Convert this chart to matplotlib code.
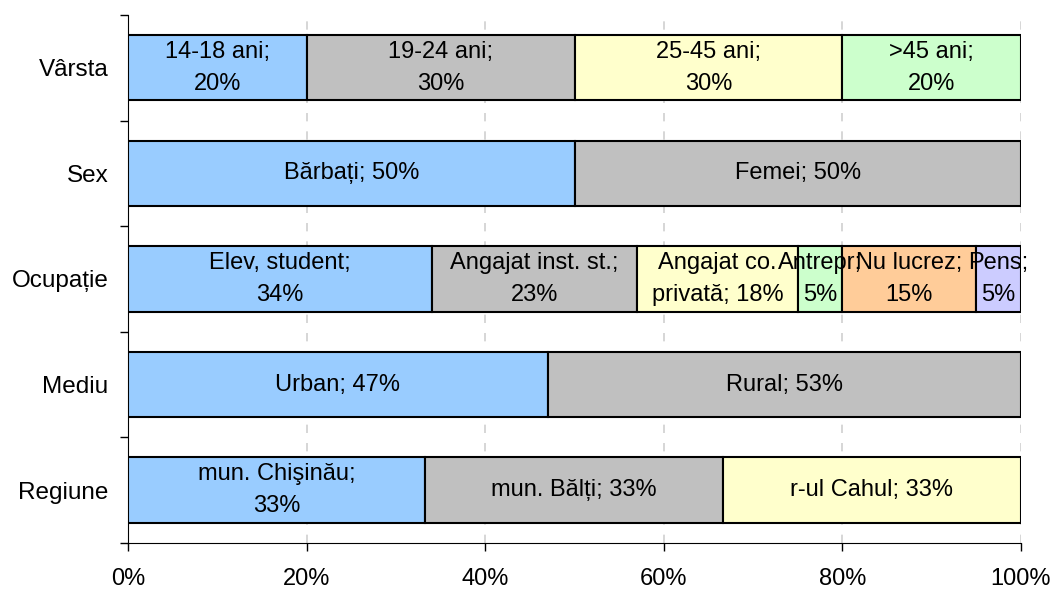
import matplotlib.pyplot as plt
from matplotlib.ticker import FuncFormatter

plt.rcParams['font.family'] = ['Liberation Sans', 'DejaVu Sans']

rows = ['Vârsta', 'Sex', 'Ocupație', 'Mediu', 'Regiune']

varsta_vals = [20, 30, 30, 20]
varsta_labels = ['14-18 ani;\n20%', '19-24 ani;\n30%', '25-45 ani;\n30%', '>45 ani;\n20%']

sex_vals = [50, 50]
sex_labels = ['Bărbați; 50%', 'Femei; 50%']

ocup_vals = [34, 23, 18, 5, 15, 5]
ocup_labels = ['Elev, student;\n34%', 'Angajat inst. st.;\n23%', 'Angajat co.\nprivată; 18%',
               'Antrepr;\n5%', 'Nu lucrez;\n15%', 'Pens;\n5%']

mediu_vals = [47, 53]
mediu_labels = ['Urban; 47%', 'Rural; 53%']

regiune_vals = [33.3, 33.3, 33.4]
regiune_labels = ['mun. Chişinău;\n33%', 'mun. Bălți; 33%', 'r-ul Cahul; 33%']

colors = ['#99CCFF', '#C0C0C0', '#FFFFCC', '#CCFFCC', '#FFCC99', '#CCCCFF']

all_vals = [varsta_vals, sex_vals, ocup_vals, mediu_vals, regiune_vals]
all_labels = [varsta_labels, sex_labels, ocup_labels, mediu_labels, regiune_labels]

fig = plt.figure(figsize=(10.53, 5.9), dpi=100)
ax = fig.add_axes([0.1216, 0.0797, 0.848, 0.895])

for i, (vals, labels) in enumerate(zip(all_vals, all_labels)):
    left = 0
    for j, (v, lab) in enumerate(zip(vals, labels)):
        ax.barh(i, v, left=left, height=0.62, color=colors[j], edgecolor='black',
                linewidth=1.5, zorder=3)
        ax.text(left + v / 2, i, lab, ha='center', va='center', fontsize=17,
                linespacing=1.6, zorder=4)
        left += v

ax.set_xlim(0, 100)
ax.set_ylim(4.5, -0.5)
ax.set_xticks([0, 20, 40, 60, 80, 100])
ax.xaxis.set_major_formatter(FuncFormatter(lambda x, p: '%d%%' % x))
ax.set_yticks([-0.5, 0.5, 1.5, 2.5, 3.5, 4.5])
ax.set_yticklabels([])
ax.set_yticks(range(len(rows)), minor=True)
ax.set_yticklabels(rows, minor=True)
ax.tick_params(axis='y', which='minor', length=0, pad=14, labelsize=17.5)
ax.tick_params(axis='y', which='major', length=6, width=1)
ax.tick_params(axis='x', length=6, width=1, labelsize=17, pad=12)
ax.grid(axis='x', color='#D0D0D0', linestyle=(0, (5, 6)), linewidth=1.2, zorder=0)
ax.spines['top'].set_visible(False)
ax.spines['right'].set_visible(False)

plt.savefig('out.png', dpi=100)
